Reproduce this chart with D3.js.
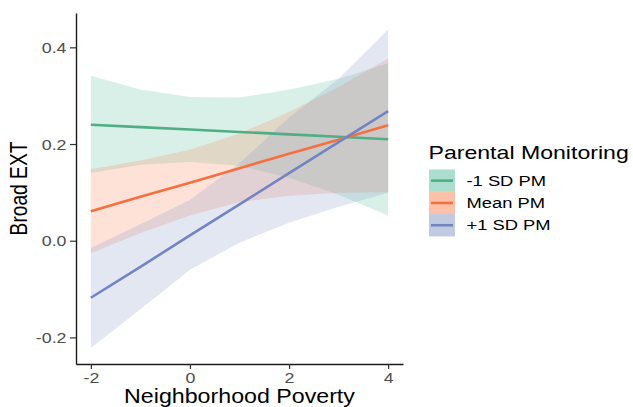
<!DOCTYPE html>
<html>
<head>
<meta charset="utf-8">
<script src="https://cdn.jsdelivr.net/npm/d3@7"></script>
<style>
  html, body { margin: 0; padding: 0; background: #fff; }
  svg { display: block; }
  text { font-family: "Liberation Sans", Arial, Helvetica, sans-serif; }
</style>
</head>
<body>
<div id="chart"></div>
<script>
// Predicted Broad EXT across neighborhood poverty, by parental monitoring level
const povertyX = [-2, -1, 0, 1, 2, 3, 4];

const seriesNames = ["-1 SD PM", "Mean PM", "+1 SD PM"];

const lowPMFit = [0.240, 0.235, 0.230, 0.225, 0.220, 0.215, 0.210];
const lowPMLo  = [0.140, 0.157, 0.163, 0.155, 0.130, 0.095, 0.052];
const lowPMHi  = [0.341, 0.313, 0.297, 0.296, 0.312, 0.335, 0.367];

const meanPMFit = [0.061, 0.091, 0.120, 0.150, 0.180, 0.209, 0.239];
const meanPMLo  = [-0.026, 0.016, 0.052, 0.080, 0.093, 0.099, 0.100];
const meanPMHi  = [0.148, 0.166, 0.188, 0.222, 0.266, 0.318, 0.377];

const highPMFit = [-0.118, -0.054, 0.011, 0.075, 0.140, 0.204, 0.268];
const highPMLo  = [-0.222, -0.142, -0.060, -0.004, 0.037, 0.070, 0.099];
const highPMHi  = [-0.015, 0.034, 0.084, 0.160, 0.255, 0.335, 0.437];

const xTickValues = [-2, 0, 2, 4];
const xTickLabels = ["-2", "0", "2", "4"];
const yTickValues = [-0.2, 0.0, 0.2, 0.4];
const yTickLabels = ["-0.2", "0.0", "0.2", "0.4"];

const xTitle = "Neighborhood Poverty";
const yTitle = "Broad EXT";
const legendTitle = "Parental Monitoring";

const fillColors = ["#66c2a5", "#fc8d62", "#8da0cb"];
const lineColors = ["#4fae84", "#f4703f", "#7185c1"];

const fits = [lowPMFit, meanPMFit, highPMFit];
const los = [lowPMLo, meanPMLo, highPMLo];
const his = [lowPMHi, meanPMHi, highPMHi];

const series = seriesNames.map((name, i) => ({
  name,
  fill: fillColors[i],
  line: lineColors[i],
  points: povertyX.map((x, j) => ({ x, fit: fits[i][j], lo: los[i][j], hi: his[i][j] }))
}));

const W = 633, H = 407;
const plot = { left: 76, right: 403, top: 13, bottom: 364 };

const svg = d3.select("#chart").append("svg")
  .attr("width", W).attr("height", H);

const x = d3.scaleLinear().domain([-2.3, 4.3]).range([plot.left, plot.right]);
const y = d3.scaleLinear().domain([-0.255, 0.471]).range([plot.bottom, plot.top]);

// confidence ribbons
const area = d3.area()
  .x(d => x(d.x))
  .y0(d => y(d.lo))
  .y1(d => y(d.hi));

svg.append("g").selectAll("path")
  .data(series)
  .join("path")
  .attr("d", d => area(d.points))
  .attr("fill", d => d.fill)
  .attr("fill-opacity", 0.25);

// fitted lines
const line = d3.line().x(d => x(d.x)).y(d => y(d.fit));
svg.append("g").selectAll("path")
  .data(series)
  .join("path")
  .attr("d", d => line(d.points))
  .attr("fill", "none")
  .attr("stroke", d => d.line)
  .attr("stroke-width", 2.6);

// horizontally widened text, placed at (tx, ty)
function wideText(parent, tx, ty, s, str, opts) {
  const g = parent.append("g")
    .attr("transform", `translate(${tx},${ty})${opts.rotate ? " scale(" + s + ",1) rotate(-90)" : " scale(" + s + ",1)"}`);
  return g.append("text")
    .attr("text-anchor", opts.anchor || "start")
    .attr("font-size", opts.size)
    .attr("fill", opts.color || "#000")
    .text(str);
}

// axes
const axisColor = "#1a1a1a";
const tickTextColor = "#4d4d4d";

const yAxis = svg.append("g")
  .attr("transform", `translate(${plot.left},0)`)
  .call(d3.axisLeft(y)
    .tickValues(yTickValues)
    .tickFormat((d, i) => yTickLabels[i])
    .tickSize(6)
    .tickSizeOuter(0));
yAxis.select(".domain").attr("stroke", axisColor).attr("stroke-width", 1.4);
yAxis.selectAll(".tick line").attr("stroke", "#333").attr("stroke-width", 1.2);
yAxis.selectAll(".tick text")
  .attr("x", 0).attr("dy", "0.36em")
  .attr("transform", "translate(-9.5,0) scale(1.27,1)")
  .attr("font-size", 14)
  .attr("fill", tickTextColor)
  .attr("font-family", null);

const xAxis = svg.append("g")
  .attr("transform", `translate(0,${plot.bottom})`)
  .call(d3.axisBottom(x)
    .tickValues(xTickValues)
    .tickFormat((d, i) => xTickLabels[i])
    .tickSize(5)
    .tickSizeOuter(0));
xAxis.select(".domain").attr("stroke", axisColor).attr("stroke-width", 1.4);
xAxis.selectAll(".tick line").attr("stroke", "#333").attr("stroke-width", 1.2);
xAxis.selectAll(".tick text")
  .attr("y", 0).attr("dy", null)
  .attr("transform", "translate(0,19) scale(1.27,1)")
  .attr("font-size", 14)
  .attr("fill", tickTextColor)
  .attr("font-family", null);

// axis titles
wideText(svg, (plot.left + plot.right) / 2, 403, 1.19, xTitle, { anchor: "middle", size: 19.5 });
wideText(svg, 27, (plot.top + plot.bottom) / 2, 1.21, yTitle, { anchor: "middle", size: 19.2, rotate: true });

// legend
const legend = svg.append("g");
wideText(legend, 428.5, 158.5, 1.32, legendTitle, { size: 17.5 });

const keyX = 429, keyW = 26, keyH = 22.3, keyTop = 169.5;
series.forEach((s, i) => {
  const ky = keyTop + i * keyH;
  legend.append("rect")
    .attr("x", keyX).attr("y", ky)
    .attr("width", keyW).attr("height", keyH)
    .attr("fill", s.fill).attr("fill-opacity", 0.55);
  legend.append("line")
    .attr("x1", keyX + 2).attr("x2", keyX + keyW - 2)
    .attr("y1", ky + keyH / 2).attr("y2", ky + keyH / 2)
    .attr("stroke", s.line).attr("stroke-width", 2.6);
  wideText(legend, 466.5, ky + keyH / 2 + 5, 1.31, s.name, { size: 14 });
});
</script>
</body>
</html>
